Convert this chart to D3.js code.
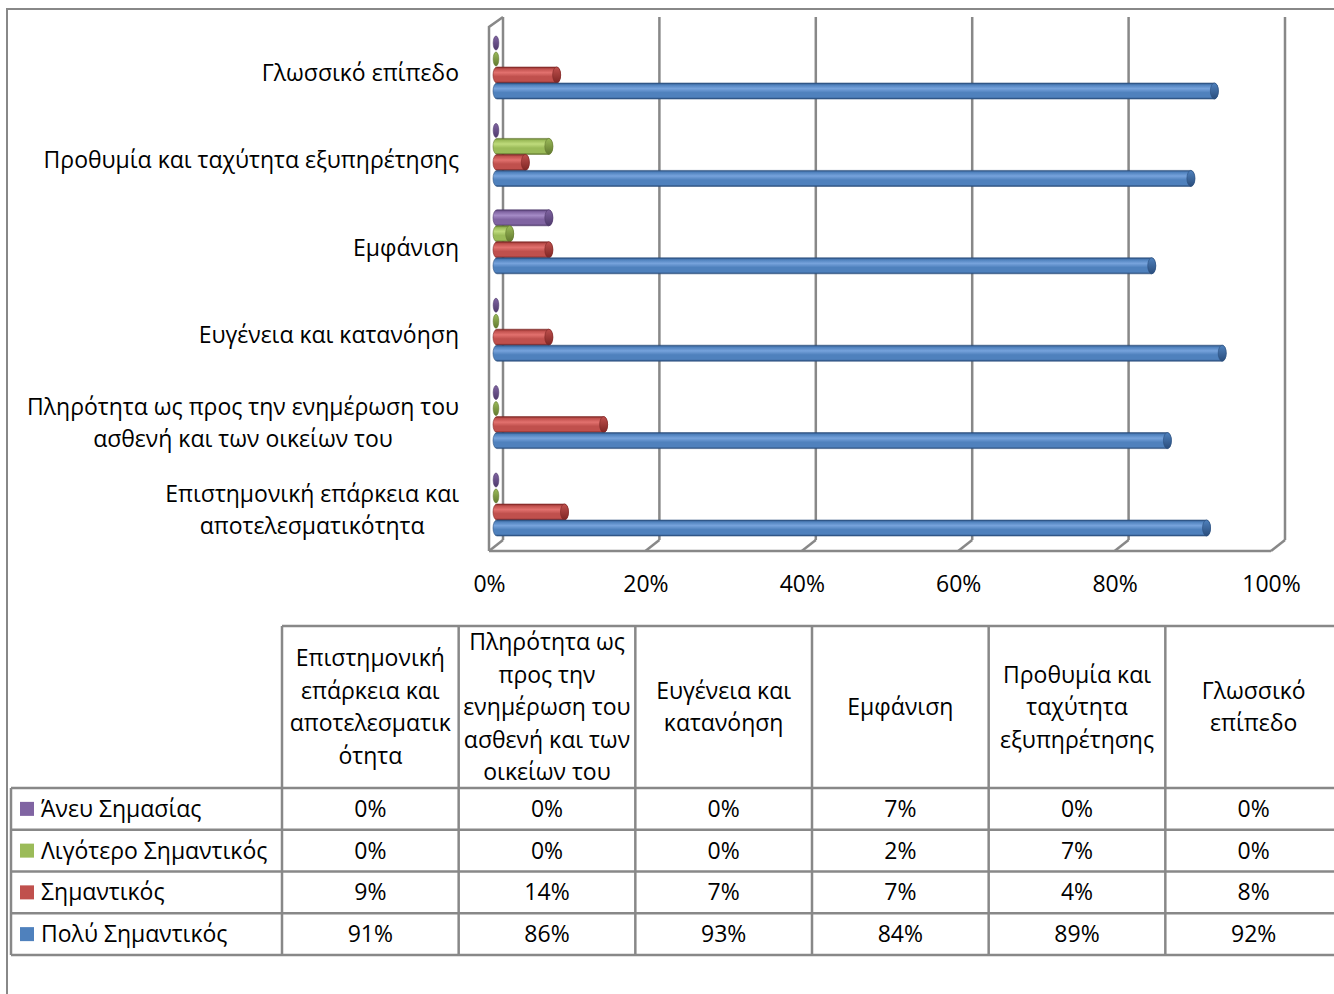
<!DOCTYPE html>
<html>
<head>
<meta charset="utf-8">
<script src="https://cdn.jsdelivr.net/npm/d3@7"></script>
<style>
  html, body { margin: 0; padding: 0; background: #fff; }
  svg { display: block; font-family: "Open Sans", "Noto Sans", sans-serif; }
</style>
</head>
<body>
<svg id="chart" width="1334" height="994"></svg>
<script>
// Categories, bottom of the chart first (same order as the data table columns)
const categories = [
  "Επιστημονική επάρκεια και αποτελεσματικότητα",
  "Πληρότητα ως προς την ενημέρωση του ασθενή και των οικείων του",
  "Ευγένεια και κατανόηση",
  "Εμφάνιση",
  "Προθυμία και ταχύτητα εξυπηρέτησης",
  "Γλωσσικό επίπεδο"
];
// Axis labels beside the bars (line breaks as drawn)
const axisLabelLines = [
  ["Επιστημονική επάρκεια και", "αποτελεσματικότητα"],
  ["Πληρότητα ως προς την ενημέρωση του", "ασθενή και των οικείων του"],
  ["Ευγένεια και κατανόηση"],
  ["Εμφάνιση"],
  ["Προθυμία και ταχύτητα εξυπηρέτησης"],
  ["Γλωσσικό επίπεδο"]
];
// Data table header text (line breaks as drawn)
const headerLines = [
  ["Επιστημονική", "επάρκεια και", "αποτελεσματικ", "ότητα"],
  ["Πληρότητα ως", "προς την", "ενημέρωση του", "ασθενή και των", "οικείων του"],
  ["Ευγένεια και", "κατανόηση"],
  ["Εμφάνιση"],
  ["Προθυμία και", "ταχύτητα", "εξυπηρέτησης"],
  ["Γλωσσικό", "επίπεδο"]
];

const seriesNames = ["Άνευ Σημασίας", "Λιγότερο Σημαντικός", "Σημαντικός", "Πολύ Σημαντικός"];
const aneuSimasias = [0, 0, 0, 7, 0, 0];
const ligoteroSimantikos = [0, 0, 0, 2, 7, 0];
const simantikos = [9, 14, 7, 7, 4, 8];
const polySimantikos = [91, 86, 93, 84, 89, 92];
const seriesValues = [aneuSimasias, ligoteroSimantikos, simantikos, polySimantikos];

const xTicks = [0, 20, 40, 60, 80, 100];

const colors = {
  base:  ["#8064A2", "#9BBB59", "#C0504D", "#4F81BD"],
  light: ["#A58BC6", "#BFDB7C", "#E2716E", "#77A3DC"],
  dark:  ["#4F3A6C", "#62792F", "#7E2624", "#2A4D7C"]
};

const FONT = 23;

const svg = d3.select("#chart");
const defs = svg.append("defs");

// Cylinder shading for each series
seriesNames.forEach((s, i) => {
  const g = defs.append("linearGradient")
    .attr("id", "cyl" + i).attr("x1", 0).attr("y1", 0).attr("x2", 0).attr("y2", 1);
  g.append("stop").attr("offset", "0%").attr("stop-color", colors.dark[i]);
  g.append("stop").attr("offset", "12%").attr("stop-color", colors.base[i]);
  g.append("stop").attr("offset", "35%").attr("stop-color", colors.light[i]);
  g.append("stop").attr("offset", "60%").attr("stop-color", colors.base[i]);
  g.append("stop").attr("offset", "88%").attr("stop-color", colors.base[i]);
  g.append("stop").attr("offset", "100%").attr("stop-color", colors.dark[i]);
  const c = defs.append("linearGradient")
    .attr("id", "cap" + i).attr("x1", 0).attr("y1", 0).attr("x2", 0).attr("y2", 1);
  c.append("stop").attr("offset", "0%").attr("stop-color", colors.base[i]);
  c.append("stop").attr("offset", "100%").attr("stop-color", colors.dark[i]);
});

const gridColor = "#888888";

// Outer frame
svg.append("path")
  .attr("d", "M7,994 V9 H1334")
  .attr("fill", "none").attr("stroke", gridColor).attr("stroke-width", 2);

// Scales: back wall, front floor edge, and bar depth plane
const xBack = d3.scaleLinear().domain([0, 100]).range([503, 1285]);
const xFront = d3.scaleLinear().domain([0, 100]).range([489, 1271]);
const xBar = d3.scaleLinear().domain([0, 100]).range([494, 1277]);
const wallTop = 17, wallBottom = 540, floorFront = 551, depthDy = floorFront - wallBottom;

const chartOrder = categories.slice().reverse(); // top to bottom
const y0 = d3.scaleBand().domain(chartOrder).range([23.3, 547.7]).paddingInner(0);
const y1 = d3.scaleBand().domain(seriesNames).range([-32, 32]);

// Gridlines on the back wall with their floor edges
const grid = svg.append("g").attr("fill", "none").attr("stroke", gridColor).attr("stroke-width", 2.5);
xTicks.forEach(t => {
  grid.append("line")
    .attr("x1", xBack(t)).attr("x2", xBack(t))
    .attr("y1", wallTop).attr("y2", wallBottom);
  grid.append("line")
    .attr("x1", xBack(t)).attr("y1", wallBottom)
    .attr("x2", xFront(t)).attr("y2", floorFront);
});
// Floor front edge and side wall
grid.append("line")
  .attr("x1", xFront(0)).attr("x2", xFront(100))
  .attr("y1", floorFront).attr("y2", floorFront);
grid.append("path")
  .attr("d", `M${xFront(0)},${floorFront} V${wallTop + depthDy - 1} L${xBack(0)},${wallTop}`);

// Value axis labels
const xAxis = d3.axisBottom(xFront).tickValues(xTicks).tickFormat(d => d + "%").tickSize(0).tickPadding(0);
const axG = svg.append("g").attr("transform", `translate(0,${floorFront + 25})`).call(xAxis);
axG.select(".domain").remove();
axG.selectAll("text").attr("font-size", FONT).attr("fill", "#000")
  .attr("font-family", "Open Sans, Noto Sans, sans-serif").attr("dy", "0.71em");

// Category labels
const catG = svg.append("g").attr("font-size", FONT).attr("fill", "#000");
categories.forEach((c, ci) => {
  const lines = axisLabelLines[ci];
  const cy = y0(c) + y0.bandwidth() / 2 + 6;
  const lh = 32;
  const t = catG.append("text").attr("text-anchor", "middle");
  lines.forEach((ln, li) => {
    t.append("tspan").attr("x", 0)
      .attr("y", cy + (li - (lines.length - 1) / 2) * lh)
      .attr("dy", "0.35em").text(ln);
  });
  // right-align the block on its widest line while keeping lines centred
  let w = 0;
  t.selectAll("tspan").each(function () { w = Math.max(w, this.getComputedTextLength()); });
  t.selectAll("tspan").attr("x", 459 - w / 2);
});

// Bars drawn as cylinders
const barH = 16;
const bars = svg.append("g");
seriesNames.forEach((s, si) => {
  const vals = seriesValues[si];
  categories.forEach((c, ci) => {
    const v = vals[ci];
    const cy = y0(c) + y0.bandwidth() / 2 + y1(s) + y1.bandwidth() / 2;
    const g = bars.append("g");
    const rx = 4, ry = barH / 2;
    const xs = xBar(0) + rx - 1, xe = xBar(v);
    if (xe <= xs) {
      g.append("ellipse")
        .attr("cx", xBar(0) + 2).attr("cy", cy)
        .attr("rx", 2.8).attr("ry", ry - 1)
        .attr("fill", `url(#cap${si})`).attr("stroke", colors.dark[si]).attr("stroke-width", 0.6);
      return;
    }
    g.append("path")
      .attr("d", `M${xs},${cy - ry} H${xe} A${rx},${ry} 0 0 1 ${xe},${cy + ry} H${xs} A${rx},${ry} 0 0 1 ${xs},${cy - ry} Z`)
      .attr("fill", `url(#cyl${si})`).attr("stroke", colors.dark[si]).attr("stroke-width", 0.8)
      .attr("stroke-opacity", 0.7);
    g.append("ellipse")
      .attr("cx", xe).attr("cy", cy).attr("rx", rx).attr("ry", ry)
      .attr("fill", `url(#cap${si})`).attr("stroke", colors.dark[si]).attr("stroke-width", 0.8)
      .attr("stroke-opacity", 0.7);
  });
});

// Data table
const tableTop = 626, headerBottom = 788, rowH = 41.75;
const colX = d3.scaleBand().domain(categories).range([282, 1342]);
const rowY = d3.scaleBand().domain(seriesNames).range([headerBottom, headerBottom + rowH * 4]);
const tableBottom = headerBottom + rowH * 4;
const tbl = svg.append("g");
const tl = tbl.append("g").attr("stroke", gridColor).attr("stroke-width", 2.5).attr("fill", "none");
tl.append("line").attr("x1", 282).attr("x2", 1334).attr("y1", tableTop).attr("y2", tableTop);
[headerBottom, ...seriesNames.map(s => rowY(s) + rowY.bandwidth())].forEach(y => {
  tl.append("line").attr("x1", 11).attr("x2", 1334).attr("y1", y).attr("y2", y);
});
tl.append("line").attr("x1", 11).attr("x2", 11).attr("y1", headerBottom).attr("y2", tableBottom);
categories.forEach(c => {
  tl.append("line").attr("x1", colX(c)).attr("x2", colX(c)).attr("y1", tableTop).attr("y2", tableBottom);
});

const tt = tbl.append("g").attr("font-size", FONT).attr("fill", "#000");
// Header cells
categories.forEach((c, ci) => {
  const lines = headerLines[ci];
  const cx = colX(c) + colX.bandwidth() / 2;
  const cy = (tableTop + headerBottom) / 2;
  const t = tt.append("text").attr("text-anchor", "middle");
  lines.forEach((ln, li) => {
    t.append("tspan").attr("x", cx)
      .attr("y", cy + (li - (lines.length - 1) / 2) * 32.5)
      .attr("dy", "0.35em").text(ln);
  });
});
// Series rows: legend key, name and values
seriesNames.forEach((s, si) => {
  const cy = rowY(s) + rowY.bandwidth() / 2;
  tbl.append("rect").attr("x", 20).attr("y", cy - 7).attr("width", 14).attr("height", 14)
    .attr("fill", colors.base[si]);
  tt.append("text").attr("x", 41).attr("y", cy).attr("dy", "0.35em").text(s);
  categories.forEach((c, ci) => {
    tt.append("text").attr("text-anchor", "middle")
      .attr("x", colX(c) + colX.bandwidth() / 2).attr("y", cy).attr("dy", "0.35em")
      .text(seriesValues[si][ci] + "%");
  });
});
</script>
</body>
</html>
